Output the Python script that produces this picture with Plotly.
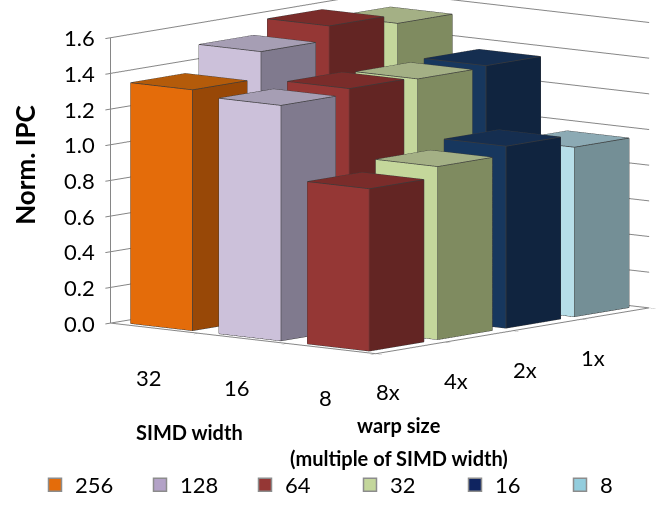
import math
import plotly.graph_objects as go

# ---- data -----------------------------------------------------------------
simd_widths = ["32", "16", "8"]          # SIMD width categories (depth axis)
simd_values = [32, 16, 8]
warp_labels = ["8x", "4x", "2x", "1x"]   # warp size as multiple of SIMD width
warp_multiples = [8, 4, 2, 1]

# Normalised IPC, one list per warp-size row, ordered by SIMD width 32/16/8
ipc_8x = [1.35, 1.32, 0.91]
ipc_4x = [1.50, 1.35, 0.97]
ipc_2x = [1.58, 1.34, 1.02]
ipc_1x = [1.53, 1.35, 0.95]
ipc_rows = [ipc_8x, ipc_4x, ipc_2x, ipc_1x]

# Warp size in threads (legend series)
thread_counts = [256, 128, 64, 32, 16, 8]
z_ticks = [0.0, 0.2, 0.4, 0.6, 0.8, 1.0, 1.2, 1.4, 1.6]

# ---- styling --------------------------------------------------------------
legend_colors = ["#E46C0A", "#B3A2C7", "#953735", "#C3D69B", "#0F2460", "#93CDDD"]
front_colors = ["#E46C0A", "#CCC1DA", "#953735", "#C4D79B", "#17375E", "#B7DEE8"]
side_colors = ["#984807", "#807A8E", "#632523", "#7F8B60", "#10243F", "#748F96"]
top_colors = ["#B45B0A", "#A69EB4", "#7A2C2A", "#A4B085", "#152E50", "#8CAAB4"]
edge_color = "#3A3A3A"
axis_gray = "#868686"
FONT = "Lato"
W, H = 665, 506

half_w = 0.35   # half bar width along the SIMD axis (category units)
half_d = 0.40   # half bar depth along the warp axis (category units)

fig = go.Figure()

edge_x, edge_y, edge_z = [], [], []
for wi, row in enumerate(ipc_rows):
    for si, val in enumerate(row):
        threads = simd_values[si] * warp_multiples[wi]
        ci = thread_counts.index(threads)
        xc, yc = si + 0.5, wi + 0.5
        x0, x1 = xc - half_w, xc + half_w
        y0, y1 = yc - half_d, yc + half_d
        vx = [x0, x1, x1, x0, x0, x1, x1, x0]
        vy = [y0, y0, y1, y1, y0, y0, y1, y1]
        vz = [0, 0, 0, 0, val, val, val, val]
        tris = [
            (0, 1, 5, "front"), (0, 5, 4, "front"),
            (1, 2, 6, "side"), (1, 6, 5, "side"),
            (4, 5, 6, "top"), (4, 6, 7, "top"),
            (3, 2, 6, "side"), (3, 6, 7, "side"),
            (0, 3, 7, "front"), (0, 7, 4, "front"),
            (0, 1, 2, "side"), (0, 2, 3, "side"),
        ]
        cmap = {"front": front_colors[ci], "side": side_colors[ci], "top": top_colors[ci]}
        fig.add_trace(go.Mesh3d(
            x=vx, y=vy, z=vz,
            i=[t[0] for t in tris], j=[t[1] for t in tris], k=[t[2] for t in tris],
            facecolor=[cmap[t[3]] for t in tris],
            flatshading=True,
            lighting=dict(ambient=1.0, diffuse=0.0, specular=0.0, roughness=1.0, fresnel=0.0),
            hoverinfo="skip", showlegend=False,
        ))
        for a, b in [(0, 1), (1, 2), (2, 3), (3, 0), (4, 5), (5, 6), (6, 7), (7, 4),
                     (0, 4), (1, 5), (2, 6), (3, 7)]:
            edge_x += [vx[a], vx[b], None]
            edge_y += [vy[a], vy[b], None]
            edge_z += [vz[a], vz[b], None]

fig.add_trace(go.Scatter3d(
    x=edge_x, y=edge_y, z=edge_z, mode="lines",
    line=dict(color=edge_color, width=1.5),
    hoverinfo="skip", showlegend=False,
))

# legend entries
for name, col in zip(thread_counts, legend_colors):
    fig.add_trace(go.Scatter(
        x=[None], y=[None], mode="markers", name=str(name),
        marker=dict(symbol="square", size=13, color=col,
                    line=dict(color="#8C8C8C", width=1.5)),
    ))

# ---- scene annotations: tick labels --------------------------------------
tick_font = dict(family=FONT, size=22, color="#000000")
scene_ann = []
for v in z_ticks:
    scene_ann.append(dict(x=0, y=0, z=v, text=f"{v:.1f}", showarrow=False,
                          xanchor="right", yanchor="middle", xshift=-14,
                          font=tick_font))
for si, lab in enumerate(simd_widths):
    scene_ann.append(dict(x=si + 0.5, y=0, z=0, text=lab, showarrow=False,
                          xanchor="center", yanchor="middle", xshift=-6, yshift=-49,
                          font=tick_font))
for wi, lab in enumerate(warp_labels):
    scene_ann.append(dict(x=3, y=wi + 0.5, z=0, text=lab, showarrow=False,
                          xanchor="center", yanchor="middle", xshift=-22, yshift=-44,
                          font=tick_font))

# ---- camera (orthographic view from the front corner) ---------------------
theta = math.radians(39.7)   # azimuth
phi = math.radians(8.0)      # elevation
dist = 1.46
d = (math.cos(phi) * math.sin(theta), -math.cos(phi) * math.cos(theta), math.sin(phi))
right = (math.cos(theta), math.sin(theta), 0.0)
up = (-math.sin(phi) * math.sin(theta), math.sin(phi) * math.cos(theta), math.cos(phi))
shift_r, shift_u = -0.197, -0.317
center = [shift_r * right[i] + shift_u * up[i] for i in range(3)]
eye = [center[i] + dist * d[i] for i in range(3)]
box = dict(x=1.362, y=1.692, z=1.139)

common_axis = dict(showbackground=False, showspikes=False, zeroline=False,
                   showticklabels=False, title=dict(text=""),
                   linecolor=axis_gray, linewidth=2, showline=True,
                   ticks="outside", ticklen=8, tickcolor=axis_gray, tickwidth=2)

title_font = dict(family=FONT, size=20, color="#000000")


def paper_text(text, px, py, angle=0, size=20):
    return dict(text=text, x=px / W, y=1 - py / H, xref="paper", yref="paper",
                xanchor="center", yanchor="middle", showarrow=False,
                textangle=angle, font=dict(title_font, size=size))


fig.update_layout(
    width=W, height=H,
    margin=dict(l=0, r=0, t=0, b=0),
    paper_bgcolor="white", plot_bgcolor="white",
    font=dict(family=FONT, size=22, color="#000000"),
    xaxis=dict(visible=False), yaxis=dict(visible=False),
    scene=dict(
        domain=dict(x=[0, 1], y=[0, 1]),
        aspectmode="manual", aspectratio=box,
        xaxis=dict(range=[0, 3], tickvals=[0, 1, 2, 3], showgrid=False, **common_axis),
        yaxis=dict(range=[0, 4], tickvals=[0, 1, 2, 3, 4], showgrid=False, **common_axis),
        zaxis=dict(range=[0, 1.6], tickvals=z_ticks, showgrid=True,
                   gridcolor=axis_gray, gridwidth=2, **common_axis),
        camera=dict(eye=dict(x=eye[0], y=eye[1], z=eye[2]),
                    center=dict(x=center[0], y=center[1], z=center[2]),
                    up=dict(x=0, y=0, z=1),
                    projection=dict(type="orthographic")),
        annotations=scene_ann,
    ),
    legend=dict(orientation="h", x=0.552, y=0, xanchor="center", yanchor="bottom",
                font=dict(family=FONT, size=22), entrywidth=60, entrywidthmode="pixels",
                bgcolor="rgba(0,0,0,0)"),
    annotations=[
        paper_text("<b>Norm. IPC</b>", 25, 165, -90, 26),
        paper_text("<b>SIMD width</b>", 191, 432),
        paper_text("<b>warp size</b>", 402, 425),
        paper_text("<b>(multiple of SIMD width)</b>", 402, 458),
    ],
)

fig.write_html("out.html", config={"displayModeBar": False})
